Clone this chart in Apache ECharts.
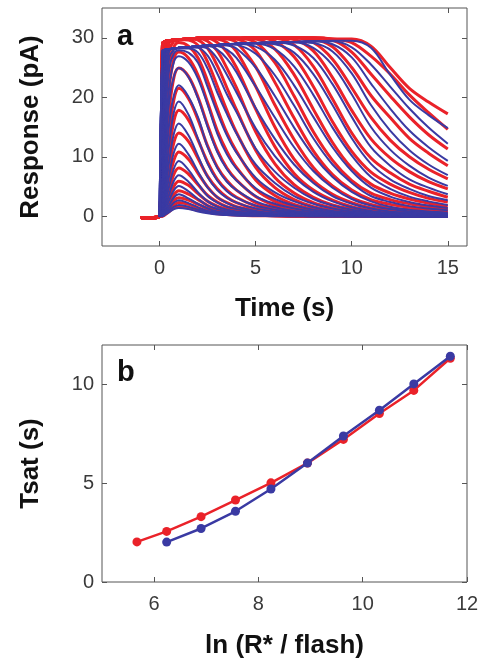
<!DOCTYPE html>
<html>
<head>
<meta charset="utf-8">
<script src="https://cdn.jsdelivr.net/npm/echarts@6/dist/echarts.min.js"></script>
<style>
  html, body { margin: 0; padding: 0; background: #ffffff; }
  #chart { width: 482px; height: 664px; }
</style>
</head>
<body>
<div id="chart"></div>
<script>
// ---- Panel a: flash responses (recorded traces in red, model fits in blue) ----
// Sample times (s) for the recorded traces, which include a short pre-flash baseline.
const recordedTime = [-1, -0.5, 0, 0.15, 0.3, 0.5, 0.75, 1, 1.5, 2, 2.5, 3, 3.5, 4, 5, 6, 7, 8, 9, 10, 11, 12, 13, 14, 15];
// Sample times (s) for the model fits.
const fitTime = [0, 0.15, 0.3, 0.5, 0.75, 1, 1.5, 2, 2.5, 3, 3.5, 4, 5, 6, 7, 8, 9, 10, 11, 12, 13, 14, 15];

// Recorded responses (pA), dimmest flash first.
const recordedTraces = [
  [-0.2,-0.3,0,0,0.3,0.8,1.4,1.6,1.4,1.0,0.7,0.4,0.3,0.2,0.1,0.1,0,0,0,0,0,0,0,0,0],
  [-0.2,-0.3,0,0.1,0.5,1.2,1.9,2.3,2.0,1.4,0.9,0.6,0.4,0.3,0.2,0.1,0,0,0,0,0,0,0,0,0],
  [-0.2,-0.3,0,0.1,0.7,1.6,2.7,3.1,2.7,2.0,1.3,0.9,0.6,0.4,0.2,0.1,0.1,0,0,0,0,0,0,0,0],
  [-0.2,-0.3,0,0.1,0.9,2.3,3.7,4.3,3.7,2.8,1.8,1.2,0.8,0.6,0.3,0.2,0.1,0,0,0,0,0,0,0,0],
  [-0.2,-0.3,0,0.2,1.3,3.1,5.1,5.9,5.2,3.8,2.5,1.7,1.2,0.8,0.4,0.2,0.1,0.1,0,0,0,0,0,0,0],
  [-0.2,-0.3,0,0.3,1.8,4.4,7.1,8.1,7.1,5.3,3.5,2.4,1.6,1.2,0.6,0.3,0.2,0.1,0.1,0,0,0,0,0,0],
  [-0.2,-0.3,0,0.4,2.6,6.0,9.5,10.8,9.6,7.2,4.9,3.2,2.3,1.6,0.9,0.5,0.3,0.2,0.1,0,0,0,0,0,0],
  [-0.2,-0.3,0,0.6,3.6,8.1,12.5,14.0,12.6,9.7,6.7,4.6,3.2,2.3,1.2,0.7,0.4,0.2,0.1,0.1,0,0,0,0,0],
  [-0.2,-0.3,0,0.8,4.9,10.9,16.1,17.8,16.2,12.8,9.1,6.2,4.4,3.2,1.7,0.9,0.5,0.3,0.2,0.1,0.1,0,0,0,0],
  [-0.2,-0.3,0,1.2,6.7,14.0,19.7,21.5,19.8,16.2,11.8,8.3,6.0,4.4,2.3,1.3,0.7,0.4,0.3,0.2,0.1,0.1,0,0,0],
  [-0.2,-0.3,0,1.6,9.1,17.8,23.4,24.9,23.5,20.0,15.3,11.1,8.1,6.1,3.3,1.8,1.0,0.6,0.4,0.2,0.1,0.1,0.1,0,0],
  [-0.2,-0.3,0,2.2,11.9,21.6,26.5,27.6,26.6,23.7,19.1,14.4,10.9,8.2,4.5,2.5,1.5,0.9,0.5,0.3,0.2,0.1,0.1,0.1,0],
  [-0.2,-0.3,0,3.0,15.3,24.9,28.5,29.2,28.6,26.6,22.7,18.1,14.0,10.9,6.1,3.5,2.0,1.2,0.7,0.4,0.3,0.2,0.1,0.1,0.1],
  [-0.2,-0.3,0,4.3,19.1,27.6,29.5,29.7,29.6,28.7,25.9,21.9,17.8,14.1,8.2,4.8,2.8,1.6,1.0,0.6,0.4,0.3,0.2,0.1,0.1],
  [-0.2,-0.3,0,5.8,22.8,29.2,29.6,29.7,29.8,29.6,28.2,25.3,21.6,17.9,11.1,6.5,3.9,2.3,1.4,0.8,0.5,0.4,0.3,0.2,0.2],
  [-0.2,-0.3,0,7.9,25.9,29.5,29.6,29.7,29.8,29.9,29.4,27.8,24.9,21.6,14.2,8.8,5.3,3.2,1.9,1.2,0.7,0.5,0.4,0.3,0.2],
  [-0.2,-0.3,0,10.6,28.3,29.5,29.6,29.7,29.8,29.9,29.9,29.2,27.6,25.0,18.0,11.7,7.2,4.4,2.7,1.6,1.0,0.7,0.5,0.4,0.3],
  [-0.2,-0.3,0,13.6,29.4,29.5,29.6,29.7,29.8,29.9,29.9,29.8,29.2,27.7,21.8,15.0,9.6,6.0,3.7,2.3,1.4,1.0,0.8,0.6,0.5],
  [-0.2,-0.3,0,17.3,29.4,29.5,29.6,29.7,29.8,29.9,29.9,29.9,29.8,29.2,25.1,18.7,12.9,8.2,5.1,3.1,2.0,1.4,1.1,0.8,0.6],
  [-0.2,-0.3,0,21.2,29.4,29.5,29.6,29.7,29.8,29.9,29.9,29.9,29.9,29.8,27.8,22.5,16.5,11.0,7.0,4.4,2.8,2.0,1.5,1.2,0.9],
  [-0.2,-0.3,0,24.7,29.4,29.5,29.6,29.7,29.8,29.9,29.9,29.9,29.9,29.9,29.2,25.8,20.2,14.2,9.4,6.0,3.9,2.8,2.1,1.6,1.2],
  [-0.2,-0.3,0,27.4,29.4,29.5,29.6,29.7,29.8,29.9,29.9,29.9,29.9,29.9,29.8,28.1,23.8,18.0,12.4,8.1,5.4,3.9,2.9,2.2,1.7],
  [-0.2,-0.3,0,29.0,29.4,29.5,29.6,29.7,29.8,29.9,29.9,29.9,29.9,29.9,30.0,29.4,26.8,21.8,15.9,10.9,7.4,5.4,4.0,3.0,2.4],
  [-0.2,-0.3,0,29.0,29.4,29.5,29.6,29.7,29.8,29.9,29.9,29.9,29.9,29.9,30.0,29.9,28.8,25.2,19.7,14.0,9.8,7.3,5.4,4.2,3.2],
  [-0.2,-0.3,0,29.0,29.4,29.5,29.6,29.7,29.8,29.9,29.9,29.9,29.9,29.9,30.0,30.0,29.7,27.8,23.3,17.8,13.0,9.8,7.5,5.8,4.6],
  [-0.2,-0.3,0,29.0,29.4,29.5,29.6,29.7,29.8,29.9,29.9,29.9,29.9,29.9,30.0,30.0,30.0,29.2,26.4,21.6,16.6,12.8,10.0,7.9,6.3],
  [-0.2,-0.3,0,29.0,29.4,29.5,29.6,29.7,29.8,29.9,29.9,29.9,29.9,29.9,30.0,30.0,30.0,29.8,28.5,25.0,20.3,16.6,13.1,10.6,8.5],
  [-0.2,-0.3,0,29.0,29.4,29.5,29.6,29.7,29.8,29.9,29.9,29.9,29.9,29.9,30.0,30.0,30.0,30.0,29.6,27.6,23.9,20.2,16.7,13.7,11.3],
  [-0.2,-0.3,0,29.0,29.4,29.5,29.6,29.7,29.8,29.9,29.9,29.9,29.9,29.9,30.0,30.0,30.0,30.0,29.8,29.2,26.9,23.9,20.4,17.4,14.6],
  [-0.2,-0.3,0,29.0,29.4,29.5,29.6,29.7,29.8,29.9,29.9,29.9,29.9,29.9,30.0,30.0,30.0,30.0,29.8,29.8,28.6,25.0,21.5,19.2,17.2]
];

// Model fits (pA), dimmest flash first.
const fittedTraces = [
  [0,0,0.3,0.7,1.2,1.4,1.2,0.8,0.5,0.3,0.2,0.1,0.1,0,0,0,0,0,0,0,0,0,0],
  [0,0.1,0.4,1.0,1.6,1.9,1.6,1.1,0.7,0.4,0.3,0.2,0.1,0.1,0,0,0,0,0,0,0,0,0],
  [0,0.1,0.6,1.4,2.3,2.7,2.2,1.5,0.9,0.6,0.4,0.3,0.2,0.1,0.1,0,0,0,0,0,0,0,0],
  [0,0.1,0.8,1.9,3.2,3.7,3.0,2.1,1.3,0.8,0.6,0.4,0.2,0.1,0.1,0,0,0,0,0,0,0,0],
  [0,0.2,1.1,2.7,4.4,5.1,4.2,2.9,1.8,1.2,0.8,0.6,0.3,0.2,0.1,0.1,0,0,0,0,0,0,0],
  [0,0.3,1.5,3.7,6.0,6.9,5.8,4.0,2.5,1.6,1.1,0.8,0.5,0.3,0.2,0.1,0.1,0,0,0,0,0,0],
  [0,0.3,2.2,5.1,8.1,9.3,7.8,5.5,3.4,2.3,1.6,1.2,0.7,0.4,0.2,0.1,0.1,0,0,0,0,0,0],
  [0,0.5,3.0,6.9,10.8,12.2,10.4,7.5,4.8,3.2,2.2,1.6,0.9,0.5,0.3,0.2,0.1,0.1,0,0,0,0,0],
  [0,0.7,4.2,9.3,14.0,15.6,13.6,10.1,6.6,4.4,3.1,2.3,1.3,0.8,0.5,0.3,0.2,0.1,0.1,0,0,0,0],
  [0,0.9,5.7,12.2,17.6,19.3,17.1,13.0,8.8,6.0,4.2,3.1,1.8,1.1,0.7,0.4,0.2,0.1,0.1,0,0,0,0],
  [0,1.3,7.7,15.7,20.4,22.0,20.1,16.6,11.6,8.1,5.8,4.4,2.5,1.5,0.9,0.6,0.3,0.2,0.1,0.1,0,0,0],
  [0,1.9,10.3,19.4,23.6,24.9,23.4,19.8,15.0,10.8,7.9,6.0,3.4,2.1,1.3,0.8,0.5,0.3,0.2,0.1,0.1,0,0],
  [0,2.6,13.3,21.8,26.0,26.9,25.9,23.1,18.7,13.9,10.4,8.0,4.7,2.9,1.8,1.1,0.7,0.4,0.2,0.2,0.1,0.1,0],
  [0,3.6,16.9,24.8,27.4,27.9,27.5,25.8,21.7,17.4,13.6,10.7,6.5,4.0,2.5,1.5,0.9,0.6,0.3,0.2,0.1,0.1,0.1],
  [0,5.0,19.6,26.7,28.0,28.2,28.2,27.5,24.8,20.8,17.2,13.9,8.7,5.6,3.4,2.1,1.3,0.8,0.5,0.3,0.2,0.2,0.1],
  [0,6.7,22.9,27.8,28.2,28.3,28.4,28.3,27.0,24.0,20.5,17.5,11.4,7.5,4.8,2.9,1.8,1.1,0.7,0.4,0.3,0.2,0.2],
  [0,9.0,25.4,28.0,28.2,28.3,28.4,28.5,28.2,26.5,23.8,20.8,14.8,10.1,6.6,4.1,2.5,1.5,0.9,0.6,0.4,0.3,0.2],
  [0,11.1,27.0,28.1,28.2,28.3,28.4,28.6,28.6,28.0,26.5,24.2,18.2,13.0,8.7,5.6,3.4,2.1,1.3,0.8,0.6,0.4,0.3],
  [0,14.3,27.7,28.1,28.2,28.3,28.4,28.6,28.7,28.6,28.0,26.6,21.8,16.6,11.6,7.6,4.8,2.9,1.8,1.2,0.8,0.6,0.4],
  [0,17.9,27.9,28.1,28.2,28.3,28.4,28.6,28.7,28.8,28.7,28.2,25.0,20.2,14.9,10.2,6.6,4.1,2.5,1.6,1.1,0.8,0.6],
  [0,21.3,28.0,28.1,28.2,28.3,28.4,28.6,28.7,28.8,28.9,28.8,27.3,23.7,18.6,13.1,8.7,5.6,3.4,2.4,1.7,1.3,1.0],
  [0,24.2,28.0,28.1,28.2,28.3,28.4,28.6,28.7,28.8,28.9,29.0,28.5,26.3,22.0,16.7,11.6,7.6,4.8,3.3,2.4,1.8,1.4],
  [0,26.2,28.0,28.1,28.2,28.3,28.4,28.6,28.7,28.8,28.9,29.0,29.0,28.1,25.2,20.4,14.9,10.2,6.6,4.6,3.3,2.5,1.9],
  [0,27.3,28.0,28.1,28.2,28.3,28.4,28.6,28.7,28.8,28.9,29.0,29.1,28.9,27.5,23.9,18.7,13.1,8.8,6.2,4.6,3.4,2.7],
  [0,27.7,28.0,28.1,28.2,28.3,28.4,28.6,28.7,28.8,28.9,29.0,29.1,29.2,28.7,26.6,22.2,16.7,11.6,8.5,6.2,4.8,3.7],
  [0,27.8,28.0,28.1,28.2,28.3,28.4,28.6,28.7,28.8,28.9,29.0,29.1,29.2,29.2,28.3,25.4,20.5,15.0,11.2,8.5,6.5,5.1],
  [0,27.8,28.0,28.1,28.2,28.3,28.4,28.6,28.7,28.8,28.9,29.0,29.1,29.2,29.3,29.1,27.7,24.0,18.7,14.4,11.1,8.7,6.9],
  [0,27.8,28.0,28.1,28.2,28.3,28.4,28.6,28.7,28.8,28.9,29.0,29.1,29.2,29.3,29.4,28.9,26.7,22.3,18.1,14.4,11.6,9.3],
  [0,27.8,28.0,28.1,28.2,28.3,28.4,28.6,28.7,28.8,28.9,29.0,29.1,29.2,29.3,29.4,29.4,28.4,25.5,21.8,18.1,14.9,12.2],
  [0,27.8,28.0,28.1,28.2,28.3,28.4,28.6,28.7,28.8,28.9,29.0,29.1,29.2,29.3,29.4,29.5,29.5,28.3,23.8,19.6,17.0,14.8]
];

// ---- Panel b: time in saturation against flash strength ----
const flashRecorded = [5.67, 6.24, 6.90, 7.56, 8.24, 8.94, 9.63, 10.32, 10.98, 11.68];
const tsatRecorded  = [2.03, 2.56, 3.31, 4.15, 5.02, 6.02, 7.22, 8.53, 9.70, 11.33];
const flashFitted   = [6.24, 6.90, 7.56, 8.24, 8.94, 9.63, 10.32, 10.98, 11.68];
const tsatFitted    = [2.02, 2.71, 3.58, 4.71, 6.02, 7.39, 8.70, 10.03, 11.43];

// Axis tick labels
const timeTicks = [0, 5, 10, 15];
const responseTicks = [0, 10, 20, 30];
const flashTicks = [6, 8, 10, 12];
const tsatTicks = [0, 5, 10];

const RED = '#ea2229';
const BLUE = '#3a3aa3';
const FONT = '"Liberation Sans", Arial, Helvetica, sans-serif';
const BOX = '#555555';

function pairs(xs, ys) { return ys.map((v, i) => [xs[i], v]); }

// One side of a boxed axes frame: ticks point inward; only bottom/left carry labels.
function boxAxis(grid, min, max, ticks, position, opts) {
  const ax = {
    type: 'value', gridIndex: grid, min: min, max: max, position: position,
    axisLine: { show: false, onZero: false },
    splitLine: { show: false },
    axisTick: { show: true, inside: true, length: 5, customValues: ticks, lineStyle: { color: BOX, width: 1 } },
    axisLabel: { show: false }
  };
  if (opts) {
    ax.axisLabel = { show: true, customValues: ticks, fontSize: 20, color: '#3a3a3a', fontFamily: FONT, margin: opts.margin };
    ax.name = opts.name;
    ax.nameLocation = 'middle';
    ax.nameGap = opts.nameGap;
    ax.nameTextStyle = { fontSize: 26, fontWeight: 'bold', color: '#111', fontFamily: FONT };
  }
  return ax;
}

const series = [];
recordedTraces.forEach(vals => {
  series.push({
    type: 'line', xAxisIndex: 0, yAxisIndex: 0, data: pairs(recordedTime, vals),
    showSymbol: false, smooth: 0.35, silent: true, z: 2,
    lineStyle: { color: RED, width: 3 }
  });
});
fittedTraces.forEach(vals => {
  series.push({
    type: 'line', xAxisIndex: 0, yAxisIndex: 0, data: pairs(fitTime, vals),
    showSymbol: false, smooth: 0.35, silent: true, z: 3,
    lineStyle: { color: BLUE, width: 2 }
  });
});
series.push({
  type: 'line', xAxisIndex: 2, yAxisIndex: 2, data: pairs(flashRecorded, tsatRecorded),
  symbol: 'circle', symbolSize: 9, silent: true, z: 3,
  lineStyle: { color: RED, width: 2.5 }, itemStyle: { color: RED }
});
series.push({
  type: 'line', xAxisIndex: 2, yAxisIndex: 2, data: pairs(flashFitted, tsatFitted),
  symbol: 'circle', symbolSize: 9, silent: true, z: 4,
  lineStyle: { color: BLUE, width: 2.5 }, itemStyle: { color: BLUE }
});

const option = {
  animation: false,
  backgroundColor: '#ffffff',
  grid: [
    { left: 102, top: 8, width: 365, height: 238, show: true, borderColor: BOX, borderWidth: 1, backgroundColor: 'transparent' },
    { left: 102, top: 345, width: 365, height: 237, show: true, borderColor: BOX, borderWidth: 1, backgroundColor: 'transparent' }
  ],
  xAxis: [
    boxAxis(0, -3, 16, timeTicks, 'bottom', { margin: 12, name: 'Time (s)', nameGap: 50 }),
    boxAxis(0, -3, 16, timeTicks, 'top'),
    boxAxis(1, 5, 12, flashTicks, 'bottom', { margin: 12, name: 'ln (R* / flash)', nameGap: 51 }),
    boxAxis(1, 5, 12, flashTicks, 'top')
  ],
  yAxis: [
    boxAxis(0, -5, 35, responseTicks, 'left', { margin: 8, name: 'Response (pA)', nameGap: 58 }),
    boxAxis(0, -5, 35, responseTicks, 'right'),
    boxAxis(1, 0, 12, tsatTicks, 'left', { margin: 8, name: 'Tsat (s)', nameGap: 58 }),
    boxAxis(1, 0, 12, tsatTicks, 'right')
  ],
  graphic: [
    { type: 'text', left: 117, top: 22, style: { text: 'a', font: 'bold 29px ' + FONT, fill: '#111' }, z: 10 },
    { type: 'text', left: 117, top: 358, style: { text: 'b', font: 'bold 29px ' + FONT, fill: '#111' }, z: 10 }
  ],
  series: series
};

const chart = echarts.init(document.getElementById('chart'), null, { renderer: 'canvas' });
chart.setOption(option);
</script>
</body>
</html>
